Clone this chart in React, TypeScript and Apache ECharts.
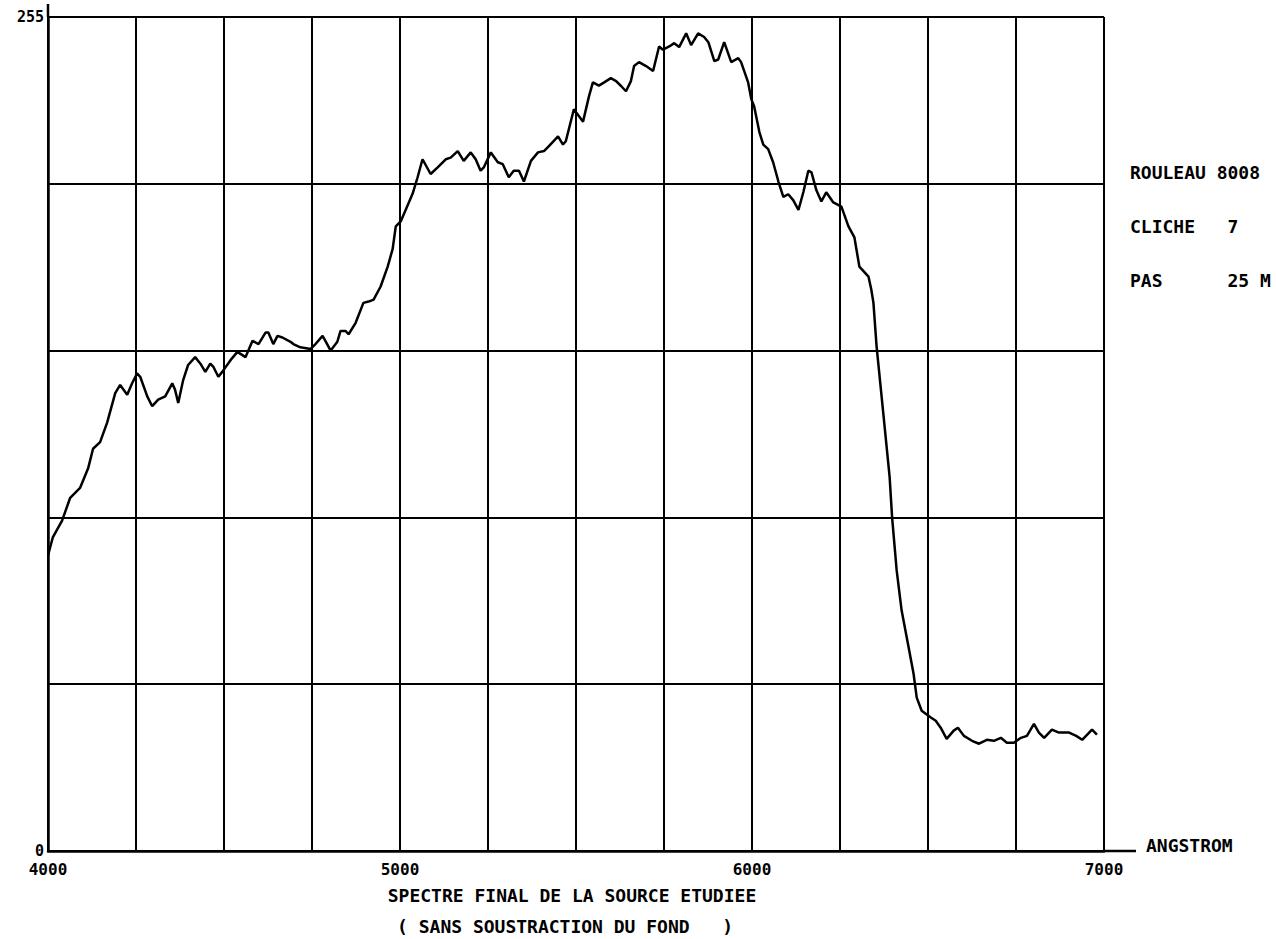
import React, { useEffect, useRef } from "react";
import * as echarts from "echarts";

const wavelengths = [
  4000, 4014, 4040, 4063, 4091, 4114, 4128, 4148, 4168, 4191, 4205, 4225, 4239, 4253, 4262, 4282,
  4296, 4313, 4333, 4353, 4361, 4370, 4384, 4398, 4418, 4433, 4447, 4461, 4470, 4484, 4495, 4518,
  4538, 4561, 4581, 4598, 4618, 4626, 4640, 4652, 4666, 4689, 4697, 4717, 4746, 4760, 4780, 4788,
  4803, 4822, 4831, 4845, 4854, 4874, 4896, 4911, 4925, 4945, 4965, 4979, 4988, 5002, 5016, 5036,
  5050, 5064, 5087, 5107, 5130, 5144, 5164, 5181, 5201, 5215, 5229, 5238, 5258, 5278, 5292, 5309,
  5323, 5338, 5352, 5372, 5392, 5409, 5423, 5449, 5463, 5471, 5494, 5520, 5537, 5548, 5565, 5580,
  5599, 5614, 5628, 5642, 5656, 5665, 5679, 5699, 5719, 5736, 5747, 5765, 5779, 5793, 5813, 5827,
  5847, 5864, 5876, 5893, 5904, 5921, 5941, 5961, 5969, 5989, 5998, 6006, 6021, 6032, 6046, 6060,
  6075, 6089, 6103, 6117, 6132, 6146, 6160, 6169, 6183, 6197, 6211, 6231, 6254, 6274, 6291, 6305,
  6331, 6339, 6345, 6354, 6374, 6391, 6398, 6411, 6425, 6445, 6459, 6468, 6482, 6508, 6522, 6536,
  6553, 6573, 6585, 6602, 6625, 6645, 6667, 6687, 6707, 6724, 6744, 6764, 6781, 6801, 6815, 6830,
  6852, 6872, 6901, 6921, 6938, 6966, 6980,
];

const intensities = [
  90.4, 96, 101, 108, 111, 117, 123, 125, 131, 140, 142.5, 139.5, 143, 146, 145, 139,
  136, 138, 139, 143, 141, 137, 144, 148.6, 151, 149, 146.5, 149, 148, 145, 146.5, 150,
  152.6, 151, 156, 155, 158.5, 158.5, 155, 157.5, 157, 155.7, 155, 154, 153.5, 155, 157.5, 156,
  153, 155.7, 159, 159, 158, 161.5, 167.6, 168, 168.6, 172.6, 178.7, 184, 191, 192.5, 196, 201,
  206, 211.5, 207, 209, 211.5, 212, 214, 211, 213.6, 211.5, 208, 209, 213.6, 210.6, 210, 206,
  208, 208, 204.7, 211, 213.6, 214, 215.5, 218.5, 216, 217, 226.8, 223, 230.8, 235, 234, 235,
  236.3, 235.4, 233.9, 232.3, 235.4, 240, 241.2, 240, 238.5, 246, 245, 246, 247, 245.8, 250, 246.4,
  250, 248.9, 247.3, 241.5, 242, 247.3, 241.2, 242.4, 241.2, 235, 229.9, 227.7, 219.8, 216, 214.6, 210.6,
  204.7, 200, 200.8, 199, 196, 201.5, 208, 207.5, 202, 198.6, 201.4, 198.3, 197, 191, 187.6, 178.7,
  175.6, 171.6, 167.6, 154.2, 132.7, 114.3, 102, 85.8, 73.6, 62.2, 54.2, 46.9, 42.9, 40.8, 39.8, 37.7,
  34.3, 36.8, 37.7, 35.2, 33.7, 32.8, 34.0, 33.7, 34.6, 33.1, 33.1, 34.6, 35.2, 38.9, 36.2, 34.6,
  37.1, 36.2, 36.2, 35.2, 34.0, 37.1, 35.6,
];

const xLabelValues = [4000, 5000, 6000, 7000];
const yLabelValues = [0, 255];
const infoLines = ["ROULEAU 8008", "CLICHE   7", "PAS      25 M"];
const titleLine1 = "SPECTRE FINAL DE LA SOURCE ETUDIEE";
const titleLine2 = "( SANS SOUSTRACTION DU FOND   )";
const xUnit = "ANGSTROM";

const FONT = "'DejaVu Sans Mono', 'Liberation Mono', monospace";

export default function App() {
  const ref = useRef<HTMLDivElement>(null);

  useEffect(() => {
    if (!ref.current) return;
    const chart = echarts.init(ref.current, undefined, { renderer: "svg" });
    const data = wavelengths.map((w, i) => [w, intensities[i]]);
    const gridLeft = 48;
    const gridRight = 172;
    const gridTop = 17;
    const gridBottom = 88;
    const W = 1276;
    const H = 939;
    const axisY = H - gridBottom;
    const axisRight = W - gridRight;

    const textStyleBase = {
      fontFamily: FONT,
      fontWeight: "bold",
      fontSize: 18,
      fill: "#000",
    };

    chart.setOption({
      animation: false,
      backgroundColor: "#fff",
      grid: { left: gridLeft, right: gridRight, top: gridTop, bottom: gridBottom, containLabel: false },
      xAxis: {
        type: "value",
        min: 4000,
        max: 7000,
        interval: 250,
        axisLine: { show: true, lineStyle: { color: "#000", width: 2.5 } },
        axisTick: { show: false },
        splitLine: { show: true, lineStyle: { color: "#000", width: 2 } },
        axisLabel: {
          show: true,
          showMinLabel: true,
          showMaxLabel: true,
          margin: 10,
          color: "#000",
          fontFamily: FONT,
          fontWeight: "bold",
          fontSize: 16,
          formatter: (v: number) => (xLabelValues.includes(v) ? String(v) : ""),
        },
      },
      yAxis: {
        type: "value",
        min: 0,
        max: 255,
        interval: 51,
        axisLine: { show: true, lineStyle: { color: "#000", width: 2.5 } },
        axisTick: { show: false },
        splitLine: { show: true, lineStyle: { color: "#000", width: 2 } },
        axisLabel: {
          show: true,
          showMinLabel: true,
          showMaxLabel: true,
          margin: 4,
          color: "#000",
          fontFamily: FONT,
          fontWeight: "bold",
          fontSize: 15,
          formatter: (v: number) => (yLabelValues.includes(v) ? String(v) : ""),
        },
      },
      series: [
        {
          type: "line",
          data,
          showSymbol: false,
          smooth: false,
          lineStyle: { color: "#000", width: 2.5 },
          z: 5,
        },
      ],
      graphic: [
        {
          type: "line",
          shape: { x1: gridLeft, y1: 4, x2: gridLeft, y2: gridTop },
          style: { stroke: "#000", lineWidth: 2.5 },
        },
        {
          type: "line",
          shape: { x1: axisRight, y1: axisY, x2: axisRight + 32, y2: axisY },
          style: { stroke: "#000", lineWidth: 2.5 },
        },
        {
          type: "text",
          x: axisRight + 42,
          y: axisY - 6,
          style: { ...textStyleBase, text: xUnit, verticalAlign: "middle" },
        },
        ...infoLines.map((t, i) => ({
          type: "text",
          x: 1130,
          y: 172 + i * 54,
          style: { ...textStyleBase, text: t, verticalAlign: "middle" },
        })),
        {
          type: "text",
          x: 572,
          y: 895,
          style: { ...textStyleBase, text: titleLine1, align: "center", verticalAlign: "middle" },
        },
        {
          type: "text",
          x: 565,
          y: 926,
          style: { ...textStyleBase, text: titleLine2, align: "center", verticalAlign: "middle" },
        },
      ],
    });

    return () => chart.dispose();
  }, []);

  return (
    <div
      ref={ref}
      style={{ width: 1276, height: 939, position: "fixed", left: 0, top: 0, background: "#fff" }}
    />
  );
}
